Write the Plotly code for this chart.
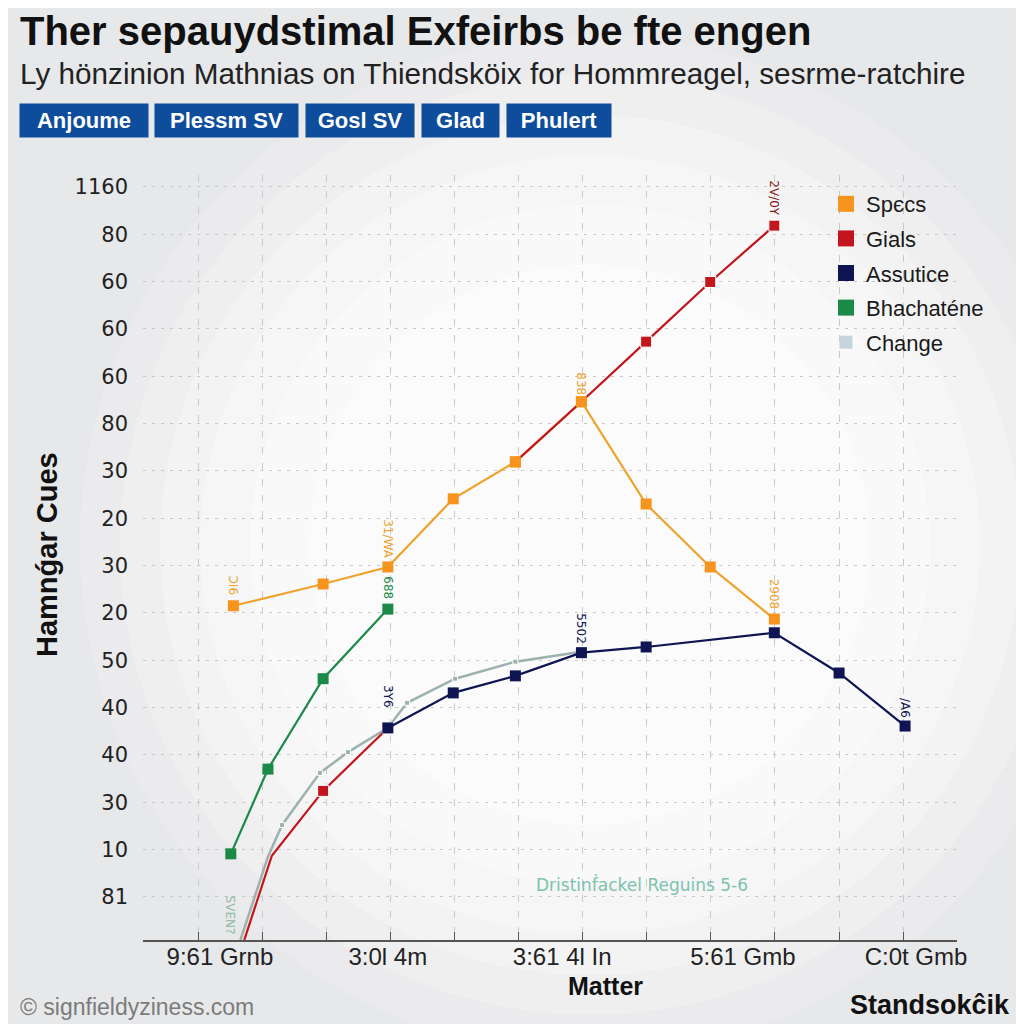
import plotly.graph_objects as go

# ---------------- data ----------------
y_tick_labels = ["81", "10", "30", "40", "40", "50", "20", "30", "20", "30",
                 "80", "60", "60", "60", "80", "1160"]
y_tick_pos = list(range(len(y_tick_labels)))

x_tick_labels = ["9:61 Grnb", "3:0l 4m", "3:61 4l In", "5:61 Gmb", "C:0t Gmb"]
x_tick_pos = [0.34, 2.96, 5.68, 8.5, 11.2]
x_grid_pos = list(range(12))

spcs_x = [0.55, 1.95, 2.96, 3.98, 4.95, 5.98, 6.99, 7.99, 8.99]
spcs_y = [6.15, 6.61, 6.97, 8.41, 9.19, 10.46, 8.30, 6.97, 5.87]

gials_x = [0.72, 1.15, 1.95, 2.96, None, 4.95, 5.98, 6.99, 7.99, 8.99]
gials_y = [-0.91, 0.87, 2.24, 3.57, None, 9.19, 10.46, 11.73, 12.99, 14.18]

assutice_x = [2.96, 3.98, 4.95, 5.98, 6.99, 8.99, 10.0, 11.03]
assutice_y = [3.57, 4.31, 4.67, 5.16, 5.28, 5.58, 4.73, 3.61]

bhach_x = [0.51, 1.09, 1.95, 2.96]
bhach_y = [0.91, 2.70, 4.61, 6.08]

change_x = [0.66, 1.09, 1.31, 1.90, 2.34, 2.96, 3.26, 4.01, 4.95, 5.98]
change_y = [-0.91, 0.85, 1.52, 2.62, 3.06, 3.57, 4.10, 4.61, 4.97, 5.18]

series_names = ["Spєcs", "Gials", "Assutice", "Bhachaténe", "Change"]
tag_labels = ["Anjoume", "Plessm SV", "Gosl SV", "Glad", "Phulert"]

# point labels: (series, index, text)
point_labels = [
    ("spcs", 0, "ƆI6"), ("spcs", 2, "31/WA"), ("bhach", 3, "688"),
    ("spcs", 5, "838"), ("gials", 9, "2V/0Y"), ("spcs", 8, "2908"),
    ("assutice", 3, "5502"), ("assutice", 0, "3Y6"), ("assutice", 7, "/A6"),
    ("change", 0, "SVEN?"),
]

# ---------------- style ----------------
C_OR, C_ORM = "#EFA22C", "#F7941D"
C_RED = "#C3161C"
C_NAVY = "#0E1552"
C_GREEN = "#1C8A47"
C_GRAY = "#9DB2AE"
FONT = "Liberation Sans, Arial, sans-serif"

OFF = 8  # page body margin offset
L, R, T, B = 143 - OFF, 957 - OFF, 175 - OFF, 940 - OFF
W, H = R - L, B - T
def px(x): return (x - OFF - L) / W
def py(y): return (B - (y - OFF)) / H

fig = go.Figure()

fig.add_trace(go.Scatter(x=change_x, y=change_y, mode="lines+markers",
    line=dict(color=C_GRAY, width=2.5),
    marker=dict(symbol="square", size=[0, 0, 5, 5, 5, 0, 5, 5, 5, 0], color=C_GRAY, opacity=1),
    showlegend=False, hoverinfo="skip"))
fig.add_trace(go.Scatter(x=spcs_x, y=spcs_y, mode="lines+markers",
    line=dict(color=C_OR, width=2.2),
    marker=dict(symbol="square", size=11, color=C_ORM, opacity=1),
    showlegend=False))
fig.add_trace(go.Scatter(x=gials_x, y=gials_y, mode="lines+markers", connectgaps=False,
    line=dict(color=C_RED, width=2.2),
    marker=dict(symbol="square", size=[0, 0, 11, 11, 0, 0, 0, 11, 11, 11], color=C_RED, opacity=1),
    showlegend=False))
fig.add_trace(go.Scatter(x=spcs_x[4:6], y=spcs_y[4:6], mode="markers",
    marker=dict(symbol="square", size=11, color=C_ORM, opacity=1),
    showlegend=False, hoverinfo="skip"))
fig.add_trace(go.Scatter(x=bhach_x, y=bhach_y, mode="lines+markers",
    line=dict(color=C_GREEN, width=2.2),
    marker=dict(symbol="square", size=11, color=C_GREEN, opacity=1),
    showlegend=False))
fig.add_trace(go.Scatter(x=assutice_x, y=assutice_y, mode="lines+markers",
    line=dict(color=C_NAVY, width=2.2),
    marker=dict(symbol="square", size=11, color=C_NAVY, opacity=1),
    showlegend=False))

# legend-only square entries
leg_colors = [C_ORM, C_RED, C_NAVY, C_GREEN, "#C6D4DC"]
for i, (name, col) in enumerate(zip(series_names, leg_colors)):
    fig.add_trace(go.Scatter(x=[None], y=[None], mode="markers", name=name,
        legendgroup=f"g{i}",
        marker=dict(symbol="square", size=16 if i < 4 else 13, color=col)))

# point labels
series_data = {
    "spcs": (spcs_x, spcs_y, C_OR), "gials": (gials_x, gials_y, "#8A1414"),
    "assutice": (assutice_x, assutice_y, C_NAVY), "bhach": (bhach_x, bhach_y, C_GREEN),
    "change": (change_x, change_y, "#8DB8A8"),
}
label_shift = {"ƆI6": (0, 20), "31/WA": (0, 28), "688": (0, 21), "838": (0, 18),
               "2V/0Y": (0, 27), "2908": (0, 25), "5502": (0, 24), "3Y6": (0, 31),
               "/A6": (0, 18), "SVEN?": (-10, 25)}
annotations = []
for s, i, txt in point_labels:
    xs, ys, col = series_data[s]
    dx, dy = label_shift[txt]
    annotations.append(dict(x=xs[i], y=ys[i], xref="x", yref="y", text=txt,
        showarrow=False, textangle=90, xshift=dx, yshift=dy,
        font=dict(family="DejaVu Sans, sans-serif", size=12, color=col)))

# titles and texts
annotations += [
    dict(x=px(18), y=py(31), text="<b>Ther sepauydstimal Exfeirbs be fte engen</b>",
         xanchor="left", yanchor="middle", font=dict(family=FONT, size=40, color="#111111")),
    dict(x=px(18), y=py(73), text="Ly hönzinion Mathnias on Thiendsköix for Hommreagel, sesrme-ratchire",
         xanchor="left", yanchor="middle", font=dict(family=FONT, size=29.7, color="#222222")),
    dict(x=px(47), y=py(555), text="<b>Hamnǵar Cues</b>", textangle=-90,
         xanchor="center", yanchor="middle", font=dict(family=FONT, size=29, color="#111111")),
    dict(x=px(605), y=py(986), text="<b>Matter</b>", xanchor="center", yanchor="middle",
         font=dict(family=FONT, size=25, color="#111111")),
    dict(x=px(18), y=py(1007), text="© signfieldyziness.com", xanchor="left", yanchor="middle",
         font=dict(family=FONT, size=23, color="#7B7B7B")),
    dict(x=px(1012), y=py(1005), text="<b>Standsokĉik</b>", xanchor="right", yanchor="middle",
         font=dict(family=FONT, size=27, color="#111111")),
    dict(x=px(642), y=py(884), text="Dristinḟackel Reguins 5-6", xanchor="center", yanchor="middle",
         font=dict(family="DejaVu Sans, sans-serif", size=17, color="#7CC3AE")),
]
tag_boxes = [(20, 148), (155, 298), (306, 414), (422, 499), (507, 611)]
for lab, (x0, x1) in zip(tag_labels, tag_boxes):
    annotations.append(dict(x=px((x0 + x1) / 2), y=py(120.5), text=f"<b>{lab}</b>",
        xanchor="center", yanchor="middle", width=x1 - x0, height=33, borderpad=0,
        bgcolor="#0E4C9C", font=dict(family=FONT, size=22, color="white")))

for a in annotations:
    a.setdefault("xref", "paper")
    a.setdefault("yref", "paper")
    a.setdefault("showarrow", False)

# background glow
shapes = []
for r, op in [(510, 0.16), (470, 0.2), (430, 0.25), (390, 0.3), (340, 0.35), (280, 0.4)]:
    shapes.append(dict(type="circle", xref="paper", yref="paper",
        xsizemode="pixel", ysizemode="pixel", xanchor=px(590), yanchor=py(545),
        x0=-r, x1=r, y0=-r, y1=r, fillcolor="white", opacity=op,
        line=dict(width=0), layer="below"))

fig.update_layout(
    width=1024, height=1024, autosize=False,
    margin=dict(l=L, r=1024 - R, t=T, b=1024 - B),
    paper_bgcolor="#E7E8EA", plot_bgcolor="rgba(0,0,0,0)",
    annotations=annotations, shapes=shapes,
    legend=dict(x=px(826), y=py(183), xanchor="left", yanchor="top",
                bgcolor="rgba(0,0,0,0)", tracegroupgap=3,
                font=dict(family=FONT, size=22, color="#1A1A1A")),
    xaxis=dict(range=[-0.86, 11.84], tickmode="array", tickvals=x_tick_pos, ticktext=x_tick_labels,
               showgrid=False, zeroline=False, ticks="", ticklabelstandoff=-6,
               showline=True, linecolor="#555555", linewidth=2,
               tickfont=dict(family=FONT, size=24, color="#222222"),
               minor=dict(tickmode="array", tickvals=x_grid_pos, ticks="inside", ticklen=8,
                          tickcolor="#555555", tickwidth=1, showgrid=True,
                          gridcolor="#C9C9C9", gridwidth=1, griddash="7px,9px")),
    yaxis=dict(range=[-0.91, 15.25], tickmode="array", tickvals=y_tick_pos, ticktext=y_tick_labels,
               showgrid=True, gridcolor="#C9C9C9", gridwidth=1, griddash="3px,6px",
               zeroline=False, ticks="", showline=False, ticklabelstandoff=14,
               tickfont=dict(family="DejaVu Sans, sans-serif", size=21, color="#222222")),
)

fig.write_html("out.html")
